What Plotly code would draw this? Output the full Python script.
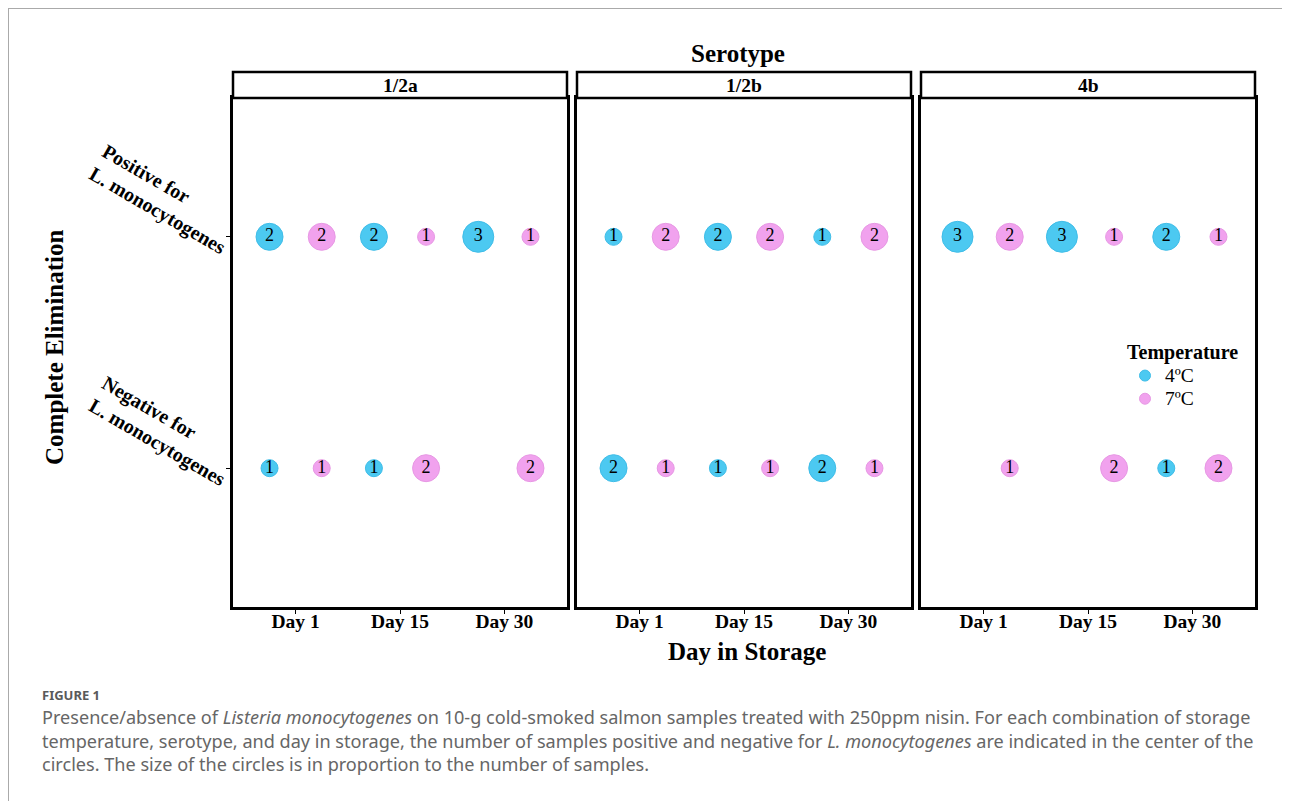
import plotly.graph_objects as go

# ---------------- data ----------------
serotypes = ["1/2a", "1/2b", "4b"]
days = ["Day 1", "Day 15", "Day 30"]
temps = ["4ºC", "7ºC"]
status_labels = ["Negative for<br>L. monocytogenes", "Positive for<br>L. monocytogenes"]

# counts per serotype, in day order, for each temperature / status
pos_4C = {"1/2a": [2, 2, 3], "1/2b": [1, 2, 1], "4b": [3, 3, 2]}
pos_7C = {"1/2a": [2, 1, 1], "1/2b": [2, 2, 2], "4b": [2, 1, 1]}
neg_4C = {"1/2a": [1, 1, 0], "1/2b": [2, 1, 2], "4b": [0, 0, 1]}
neg_7C = {"1/2a": [1, 2, 2], "1/2b": [1, 1, 1], "4b": [1, 2, 2]}

# ---------------- style ----------------
W, H = 1290, 801
OFF = 8  # page body margin


def px(xr):
    return (xr - OFF) / W


def py(yr):
    return 1 - (yr - OFF) / H


colors = {"4ºC": "#4CC9F1", "7ºC": "#F1A2EE"}
edge = {"4ºC": "#3FBDE8", "7ºC": "#E798E4"}
diam = {1: 17, 2: 27, 3: 31}
dodge = {"4ºC": -0.25, "7ºC": 0.25}
SERIF = "Liberation Serif, Times New Roman, serif"

panel_px = [(233, 567), (577, 911), (921, 1255)]
plot_top, plot_bot = 98, 607
strip_top = 72
ydom = [py(plot_bot), py(plot_top)]

fig = go.Figure()

data_by_temp = {"4ºC": (pos_4C, neg_4C), "7ºC": (pos_7C, neg_7C)}

for i, sero in enumerate(serotypes):
    xa = "x" if i == 0 else f"x{i+1}"
    ya = "y" if i == 0 else f"y{i+1}"
    for t in temps:
        pos, neg = data_by_temp[t]
        xs, ys, cs = [], [], []
        for status_idx, src in ((2, pos), (1, neg)):
            for d, c in enumerate(src[sero]):
                if c > 0:
                    xs.append(d + 1 + dodge[t])
                    ys.append(status_idx)
                    cs.append(c)
        fig.add_trace(go.Scatter(
            x=xs, y=ys, mode="markers+text", xaxis=xa, yaxis=ya,
            text=[str(c) for c in cs], textposition="middle center",
            textfont=dict(family=SERIF, size=18, color="black"),
            marker=dict(size=[diam[c] for c in cs], color=colors[t], opacity=1,
                        line=dict(color=edge[t], width=1)),
            showlegend=False, hoverinfo="skip", cliponaxis=False,
        ))

# legend-only traces
for t in temps:
    fig.add_trace(go.Scatter(
        x=[None], y=[None], mode="markers",
        name=f"<span style='font-size:19.5px'>{t}</span>",
        marker=dict(size=11, color=colors[t], line=dict(color=edge[t], width=1)),
        showlegend=True,
    ))

axis_common = dict(showline=True, mirror=True, linecolor="black", linewidth=2.5,
                   showgrid=False, zeroline=False, ticks="outside", ticklen=4,
                   tickwidth=1.2, tickcolor="black")

layout = dict(
    width=W, height=H, margin=dict(l=0, r=0, t=0, b=0),
    paper_bgcolor="white", plot_bgcolor="white",
    showlegend=True,
    legend=dict(
        x=px(1125), y=py(333), xanchor="left", yanchor="top",
        title=dict(text="<b>Temperature</b>", font=dict(family=SERIF, size=20, color="black")),
        font=dict(family=SERIF, size=15.5, color="black"),
        bgcolor="rgba(0,0,0,0)", itemwidth=30, tracegroupgap=0,
    ),
)

for i, sero in enumerate(serotypes):
    sx = "" if i == 0 else str(i + 1)
    x0, x1 = panel_px[i]
    layout[f"xaxis{sx}"] = dict(
        axis_common, domain=[px(x0), px(x1)], range=[0.4, 3.6],
        tickvals=[1, 2, 3], ticktext=[f"<b>{d}</b>" for d in days], anchor=f"y{sx}",
        tickfont=dict(family=SERIF, size=19.5, color="black"), ticklabelstandoff=-9,
    )
    ydict = dict(
        axis_common, domain=ydom, range=[0.4, 2.6], anchor=f"x{sx}",
        tickvals=[1, 2], showticklabels=False,
    )
    if i > 0:
        ydict.update(ticks="", matches="y")
    layout[f"yaxis{sx}"] = ydict

fig.update_layout(**layout)

# y category labels (rotated, left aligned lines)
for v, lab in zip([1, 2], status_labels):
    fig.add_annotation(xref="paper", yref="y", x=px(164), y=v, xanchor="center",
                       yanchor="middle", yshift=37, textangle=30, align="left",
                       text=f"<b>{lab}</b>", showarrow=False,
                       font=dict(family=SERIF, size=20, color="black"))

# strips
for i, sero in enumerate(serotypes):
    x0, x1 = panel_px[i]
    fig.add_shape(type="rect", xref="paper", yref="paper",
                  x0=px(x0), x1=px(x1), y0=py(plot_top), y1=py(strip_top),
                  line=dict(color="black", width=2.5), fillcolor="white")
    fig.add_annotation(xref="paper", yref="paper", x=px((x0 + x1) / 2),
                       y=py((plot_top + strip_top) / 2), xanchor="center", yanchor="middle",
                       text=f"<b>{sero}</b>", showarrow=False,
                       font=dict(family=SERIF, size=19.5, color="black"))

# titles
fig.add_annotation(xref="paper", yref="paper", x=px(738), y=py(53),
                   xanchor="center", yanchor="middle",
                   text="<b>Serotype</b>", showarrow=False,
                   font=dict(family=SERIF, size=25, color="black"))
fig.add_annotation(xref="paper", yref="paper", x=px(747), y=py(651),
                   xanchor="center", yanchor="middle",
                   text="<b>Day in Storage</b>", showarrow=False,
                   font=dict(family=SERIF, size=25, color="black"))
fig.add_annotation(xref="paper", yref="paper", x=px(55), y=py(347),
                   xanchor="center", yanchor="middle",
                   text="<b>Complete Elimination</b>", showarrow=False, textangle=-90,
                   font=dict(family=SERIF, size=25, color="black"))

# caption
SANS = "Noto Sans, Open Sans, sans-serif"
fig.add_annotation(xref="paper", yref="paper", x=px(40), y=py(695),
                   xanchor="left", yanchor="middle", text="<b>FIGURE 1</b>", showarrow=False,
                   font=dict(family=SANS, size=13, color="#5A5A5A"))
caption = ("Presence/absence of <i>Listeria monocytogenes</i> on 10-g cold-smoked salmon samples treated with 250ppm nisin. For each combination of storage<br>"
           "temperature, serotype, and day in storage, the number of samples positive and negative for <i>L. monocytogenes</i> are indicated in the center of the<br>"
           "circles. The size of the circles is in proportion to the number of samples.")
fig.add_annotation(xref="paper", yref="paper", x=px(40), y=py(703),
                   xanchor="left", yanchor="top", align="left", text=caption, showarrow=False,
                   font=dict(family=SANS, size=18.1, color="#666666"))

# outer frame lines
fig.add_shape(type="line", xref="paper", yref="paper", x0=0, x1=1, y0=1 - 0.5 / H, y1=1 - 0.5 / H,
              line=dict(color="#AAAAAA", width=1))
fig.add_shape(type="line", xref="paper", yref="paper", x0=0.5 / W, x1=0.5 / W, y0=0, y1=1,
              line=dict(color="#AAAAAA", width=1))

fig.write_html("out.html")
